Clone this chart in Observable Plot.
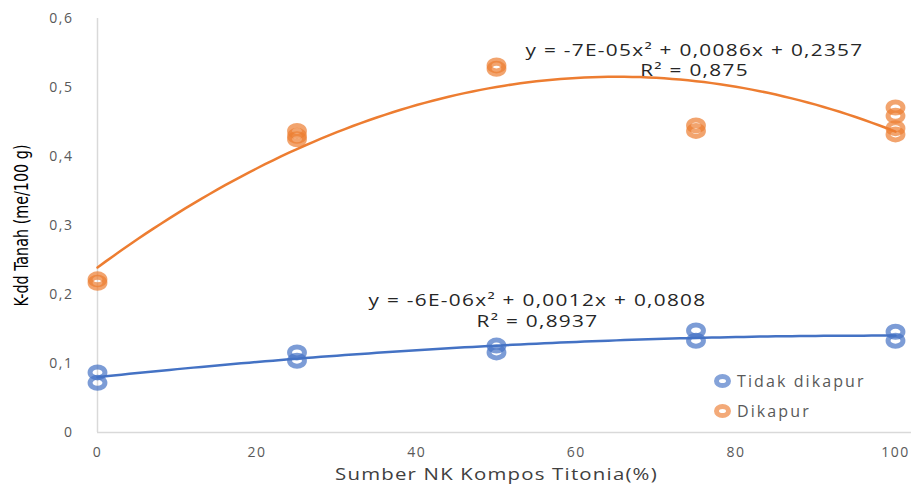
<!DOCTYPE html>
<html><head><meta charset="utf-8">
<script src="https://cdn.jsdelivr.net/npm/d3@7"></script>
<script src="https://cdn.jsdelivr.net/npm/@observablehq/plot@0.6"></script>
<style>
body{margin:0;background:#fff;}
#chart{position:relative;width:916px;height:486px;}
#legend{position:absolute;left:714px;top:366px;font-family:"Open Sans",sans-serif;font-size:16px;color:#595959;letter-spacing:2.1px;}
#legend .row{display:flex;align-items:center;height:30px;}
#legend .sw{width:17px;height:14px;border-radius:50%;box-sizing:border-box;margin-right:6px;}
</style></head><body><div id="chart"><div id="legend"></div></div>
<script>
const seriesNames = ["Tidak dikapur", "Dikapur"];
const seriesColors = ["#4472C4", "#ED7D31"];
const tidakX = [0, 0, 25, 25, 50, 50, 75, 75, 100, 100];
const tidakY = [0.087, 0.072, 0.116, 0.104, 0.126, 0.116, 0.148, 0.133, 0.146, 0.133];
const dikapurX = [0, 0, 25, 25, 25, 50, 50, 75, 75, 100, 100, 100, 100];
const dikapurY = [0.217, 0.222, 0.425, 0.43, 0.437, 0.532, 0.527, 0.445, 0.437, 0.471, 0.459, 0.441, 0.432];
const equations = ["y = -6E-06x² + 0,0012x + 0,0808", "y = -7E-05x² + 0,0086x + 0,2357"];
const r2Labels = ["R² = 0,8937", "R² = 0,875"];
const xTicks = [0, 20, 40, 60, 80, 100];
const yTicks = [0, 0.1, 0.2, 0.3, 0.4, 0.5, 0.6];
const xLabel = "Sumber NK Kompos Titonia(%)";
const yLabel = "K-dd Tanah (me/100 g)";

const points = [];
tidakX.forEach((x, i) => points.push({x, y: tidakY[i], s: seriesNames[0]}));
dikapurX.forEach((x, i) => points.push({x, y: dikapurY[i], s: seriesNames[1]}));

// quadratic least squares fit (polynomial trendline, order 2)
function quadFit(xs, ys) {
  let S = [0,0,0,0,0], T = [0,0,0];
  xs.forEach((x, i) => {
    for (let k = 0; k < 5; k++) S[k] += x ** k;
    for (let k = 0; k < 3; k++) T[k] += ys[i] * x ** k;
  });
  const A = [[S[0],S[1],S[2],T[0]],[S[1],S[2],S[3],T[1]],[S[2],S[3],S[4],T[2]]];
  for (let i = 0; i < 3; i++) {
    let p = i; for (let j = i+1; j < 3; j++) if (Math.abs(A[j][i]) > Math.abs(A[p][i])) p = j;
    [A[i], A[p]] = [A[p], A[i]];
    for (let j = 0; j < 3; j++) if (j !== i) {
      const f = A[j][i] / A[i][i];
      for (let k = i; k < 4; k++) A[j][k] -= f * A[i][k];
    }
  }
  return [A[0][3]/A[0][0], A[1][3]/A[1][1], A[2][3]/A[2][2]];
}
const fits = [quadFit(tidakX, tidakY), quadFit(dikapurX, dikapurY)];
const trend = [];
fits.forEach((c, si) => {
  for (let x = 0; x <= 100; x += 1) trend.push({x, y: c[0] + c[1]*x + c[2]*x*x, s: seriesNames[si]});
});

// elliptical ring marker (Excel's marker looks horizontally stretched)
const ellipseSymbol = {draw(ctx, size) {
  const r = Math.sqrt(size / Math.PI), rx = r * 1.35, ry = r, k = 0.5523;
  ctx.moveTo(rx, 0);
  ctx.bezierCurveTo(rx, ry*k, rx*k, ry, 0, ry);
  ctx.bezierCurveTo(-rx*k, ry, -rx, ry*k, -rx, 0);
  ctx.bezierCurveTo(-rx, -ry*k, -rx*k, -ry, 0, -ry);
  ctx.bezierCurveTo(rx*k, -ry, rx, -ry*k, rx, 0);
  ctx.closePath();
}};

const fmt = d => d === 0 ? "0" : d3.format(".1f")(d).replace(".", ",");
const eqStyle = {frameAnchor: "top-left", textAnchor: "middle", lineAnchor: "middle", fill: "#262626", fontSize: 16};

const chart = Plot.plot({
  width: 916,
  height: 486,
  marginLeft: 97,
  marginRight: 21,
  marginTop: 18,
  marginBottom: 54,
  style: {fontFamily: "'Open Sans', sans-serif", fontSize: "14px", color: "#595959", background: "#fff"},
  x: {domain: [0, 100], label: null},
  y: {domain: [0, 0.6], label: null},
  color: {domain: seriesNames, range: seriesColors},
  marks: [
    Plot.ruleX([0], {stroke: "#d9d9d9", strokeWidth: 1.5}),
    Plot.ruleY([0], {stroke: "#d9d9d9", strokeWidth: 1.5, x1: 0, x2: 102}),
    Plot.axisX({ticks: xTicks, tickSize: 0, tickPadding: 15, fill: "#595959", label: null}),
    Plot.axisY({ticks: yTicks, tickSize: 0, tickPadding: 24, tickFormat: fmt, fill: "#595959", label: null}),
    Plot.dot(points, {x: "x", y: "y", stroke: "s", symbol: ellipseSymbol, r: 5.5, strokeWidth: 5, strokeOpacity: 0.7, fill: "none"}),
    Plot.line(trend, {x: "x", y: "y", z: "s", stroke: "s", strokeWidth: 2.5}),
    Plot.text([equations[1]], {...eqStyle, text: d => d, dx: 597, dy: 32}),
    Plot.text([r2Labels[1]], {...eqStyle, text: d => d, dx: 597, dy: 52}),
    Plot.text([equations[0]], {...eqStyle, text: d => d, dx: 440, dy: 282}),
    Plot.text([r2Labels[0]], {...eqStyle, text: d => d, dx: 440, dy: 303}),
    Plot.text([xLabel], {text: d => d, frameAnchor: "bottom", textAnchor: "middle", lineAnchor: "middle", dy: 42, fill: "#404040", fontSize: 17}),
    Plot.text([yLabel], {text: d => d, frameAnchor: "left", textAnchor: "middle", dx: -76, rotate: -90, fill: "#000", fontSize: 19, fontFamily: "'Liberation Sans Narrow', 'DejaVu Sans Condensed', sans-serif"})
  ]
});
document.getElementById("chart").prepend(chart);

// horizontal stretch of texts (the reference picture is widened)
const textGroups = chart.querySelectorAll("g[aria-label='text']");
const stretch = [1.3, 1.3, 1.3, 1.3, 1.2];
function wrapWith(g, transform) {
  const wrap = document.createElementNS("http://www.w3.org/2000/svg", "g");
  wrap.setAttribute("transform", transform);
  g.parentNode.insertBefore(wrap, g);
  wrap.appendChild(g);
}
stretch.forEach((s, i) => {
  const g = textGroups[i];
  const b = g.getBBox();
  const t = g.getAttribute("transform") || "";
  const m = /translate\(([-\d.]+),([-\d.]+)\)/.exec(t);
  const cx = b.x + b.width / 2 + (m ? +m[1] : 0);
  wrapWith(g, `translate(${cx},0) scale(${s},1) translate(${-cx},0)`);
  g.style.letterSpacing = "1px";
});
// y-axis title: tall condensed glyphs -> compress along its length
{
  const g = textGroups[5];
  const b = g.getBBox();
  const t = g.getAttribute("transform") || "";
  const m = /translate\(([-\d.]+),([-\d.]+)\)/.exec(t);
  const cy = b.y + b.height / 2 + (m ? +m[2] : 0);
  wrapWith(g, `translate(0,${cy}) scale(1,0.84) translate(0,${-cy})`);
}
chart.querySelectorAll("g[aria-label='x-axis tick label'] text, g[aria-label='y-axis tick label'] text").forEach(t => t.style.letterSpacing = "1.5px");

const legend = document.getElementById("legend");
seriesNames.forEach((n, i) => {
  const row = document.createElement("div"); row.className = "row";
  const sw = document.createElement("div"); sw.className = "sw";
  sw.style.border = `5.5px solid ${seriesColors[i]}`; sw.style.opacity = 0.65;
  row.appendChild(sw);
  const lab = document.createElement("span"); lab.textContent = n;
  row.appendChild(lab);
  legend.appendChild(row);
});
</script></body></html>
